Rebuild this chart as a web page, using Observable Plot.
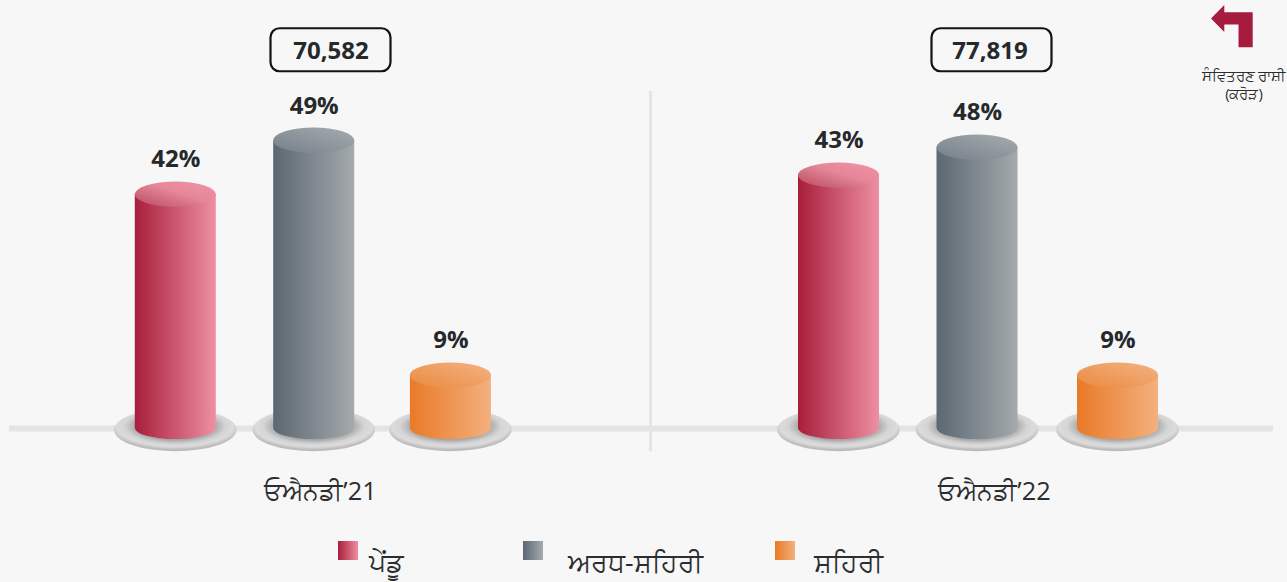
<!DOCTYPE html>
<html><head><meta charset="utf-8">
<script src="https://cdn.jsdelivr.net/npm/d3@7"></script>
<script src="https://cdn.jsdelivr.net/npm/@observablehq/plot@0.6"></script>
<style>
html,body{margin:0;padding:0;background:#f7f7f7;width:1287px;height:582px;overflow:hidden;font-family:"Open Sans","Noto Sans",sans-serif;color:#2b2e30}
#wrap{position:relative;width:1287px;height:582px}
.lg{position:absolute;font-size:26.5px;line-height:30px;white-space:nowrap}
.sw{position:absolute;width:20px;height:19px}
#unit{position:absolute;left:1199px;top:66px;width:90px;text-align:center;font-size:14.8px;line-height:18px;white-space:nowrap}
</style></head><body>
<div id="wrap">
<svg width="0" height="0" style="position:absolute"><defs>
<linearGradient id="b-r"><stop offset="0" stop-color="#a81e3a"/><stop offset="1" stop-color="#ee8fa3"/></linearGradient>
<linearGradient id="t-r" x1="0" y1="1" x2="1" y2="0"><stop offset="0" stop-color="#b8485e"/><stop offset="0.55" stop-color="#e58799"/><stop offset="1" stop-color="#f293a7"/></linearGradient>
<linearGradient id="b-g"><stop offset="0" stop-color="#5b6772"/><stop offset="1" stop-color="#a4aaad"/></linearGradient>
<linearGradient id="t-g" x1="0" y1="1" x2="1" y2="0"><stop offset="0" stop-color="#76808a"/><stop offset="1" stop-color="#a6acaf"/></linearGradient>
<linearGradient id="b-o"><stop offset="0" stop-color="#e97a27"/><stop offset="1" stop-color="#f4b07e"/></linearGradient>
<linearGradient id="t-o" x1="0" y1="1" x2="1" y2="0"><stop offset="0" stop-color="#ea8a40"/><stop offset="1" stop-color="#f4b283"/></linearGradient>
<radialGradient id="ped" cx="0.5" cy="0.42" r="0.54"><stop offset="0" stop-color="#858585"/><stop offset="0.58" stop-color="#a6a6a6"/><stop offset="0.76" stop-color="#d4d4d4"/><stop offset="0.88" stop-color="#dcdcdc"/><stop offset="1" stop-color="#bdbdbd"/></radialGradient>
</defs></svg>
<div id="chart"></div>
<svg width="60" height="60" viewBox="0 0 60 60" style="position:absolute;left:1200px;top:0"><path d="M11 18.5L24.3 5V12.3H52.7V47.3H38.5V24.5H24.3V32Z" fill="#a51c3e"/></svg>
<div id="unit">ਸੰਵਿਤਰਣ ਰਾਸ਼ੀ<br>(ਕਰੋੜ)</div>
<div id="legend"></div>
</div>
<script>
const periods = ["ਓਐਨਡੀ'21", "ਓਐਨਡੀ'22"];
const areas = ["ਪੇਂਡੂ", "ਅਰਧ-ਸ਼ਹਿਰੀ", "ਸ਼ਹਿਰੀ"];
const totals = ["70,582", "77,819"];
const shares21 = [42, 49, 9];
const shares22 = [43, 48, 9];
// cylinder heights as drawn in the picture
const drawn21 = [40.3, 49.6, 9.1];
const drawn22 = [43.6, 48.4, 9.1];
const tones = ["r", "g", "o"];

const rows = periods.flatMap((p, i) => areas.map((a, j) => ({
  key: p + a, tone: tones[j],
  share: (i ? shares22 : shares21)[j],
  h: (i ? drawn22 : drawn21)[j]
})));
const xDomain = [...rows.map(d => d.key), ...periods, "t0", "t1", "l0", "l1", "divider"];
const xRange = [175.3, 313.7, 450.4, 838.5, 977, 1117.5, 320, 994, 330.5, 991.5, 330.5, 989.5, 650];

function cylinders(index, {x, y}, values, dims, ctx) {
  const g = d3.create("svg:g");
  const y0 = y(0), rx = 40.5, ry = 12.7;
  for (const i of index) {
    const d = rows[i], cx = x(d.key), cy = y(d.h);
    g.append("ellipse").attr("cx", cx).attr("cy", y0 + 1.7).attr("rx", 61.3).attr("ry", 21.5).attr("fill", "url(#ped)");
    g.append("path").attr("fill", `url(#b-${d.tone})`)
      .attr("d", `M${cx - rx} ${cy}V${y0}A${rx} 11 0 0 0 ${cx + rx} ${y0}V${cy}Z`);
    g.append("ellipse").attr("cx", cx).attr("cy", cy).attr("rx", rx).attr("ry", ry).attr("fill", `url(#t-${d.tone})`);
  }
  return g.node();
}
function boxes(index, {x, y}) {
  const g = d3.create("svg:g");
  ["t0", "t1"].forEach(k => g.append("rect").attr("x", x(k) - 60).attr("y", y(65.3) - 21).attr("width", 120).attr("height", 43).attr("rx", 9)
    .attr("fill", "none").attr("stroke", "#111315").attr("stroke-width", 2.2));
  return g.node();
}

const chart = Plot.plot({
  width: 1287, height: 530,
  marginLeft: 9, marginRight: 14, marginTop: 0, marginBottom: 0,
  style: {background: "transparent", overflow: "visible"},
  x: {type: "ordinal", domain: xDomain, range: xRange, axis: null},
  y: {domain: [0, 50], range: [428, 138], axis: null},
  marks: [
    Plot.ruleY([0], {stroke: "#e4e4e4", strokeWidth: 6}),
    Plot.ruleX(["divider"], {y1: -4, y2: 58.1, stroke: "#e4e4e4", strokeWidth: 3}),
    Plot.dot(rows, {x: "key", y: "h", r: 1, render: cylinders}),
    Plot.text(rows, {x: "key", y: "h", text: d => d.share + "%", dy: -35, fontSize: 24, fontWeight: 700, fontFamily: "Open Sans", fill: "#26292b"}),
    Plot.dot(totals, {x: (d, i) => "t" + i, y: () => 65.3, r: 1, render: boxes}),
    Plot.text(totals, {x: (d, i) => "l" + i, y: () => 65.3, dy: 1.2, text: d => d, fontSize: 24, fontWeight: 700, fontFamily: "Open Sans", fill: "#26292b"}),
    Plot.text(periods, {x: d => d, y: () => -10.9, text: d => d.replace("'", "’"), fontSize: 25.4, fontFamily: "Open Sans, Noto Sans", fill: "#2b2e30"})
  ]
});
document.getElementById("chart").append(chart);

const lx = [[338, 369], [523, 568], [775, 814]];
const lg = document.getElementById("legend");
areas.forEach((a, i) => {
  const s = document.createElement("div"); s.className = "sw";
  s.style.cssText = `left:${lx[i][0]}px;top:541px;background:linear-gradient(90deg,${["#a81e3a,#ee8fa3","#5b6772,#a4aaad","#e97a27,#f4b07e"][i]})`;
  const t = document.createElement("div"); t.className = "lg"; t.textContent = a;
  t.style.cssText = `left:${lx[i][1]}px;top:547px`;
  lg.append(s, t);
});
</script>
</body></html>
